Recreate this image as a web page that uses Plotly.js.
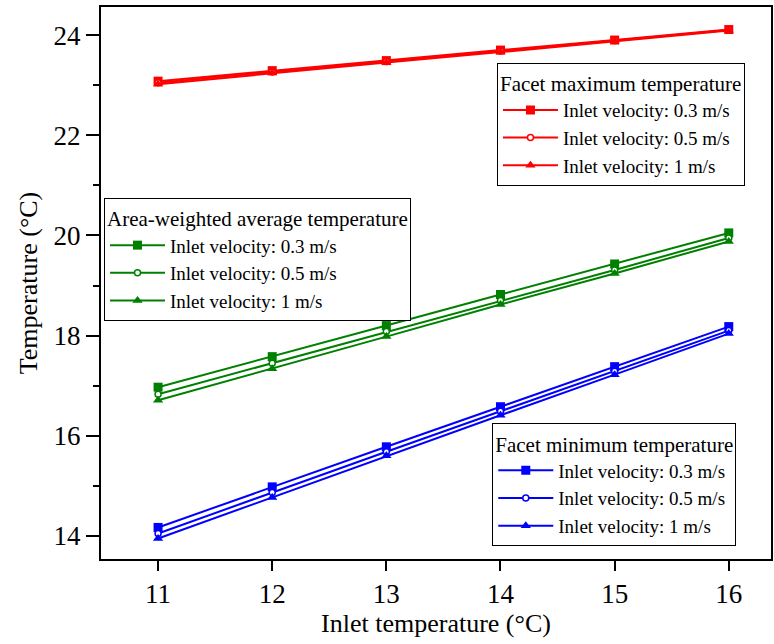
<!DOCTYPE html>
<html><head><meta charset="utf-8">
<script src="https://cdn.plot.ly/plotly-3.0.1.min.js"></script>
<style>body{margin:0;background:#fff}#chart{width:774px;height:644px}</style>
</head><body><div id="chart"></div>
<script>
const inletTemp = [11, 12, 13, 14, 15, 16];
const maxV03 = [23.08, 23.29, 23.49, 23.70, 23.90, 24.11];
const maxV05 = [23.05, 23.26, 23.47, 23.68, 23.89, 24.10];
const maxV1  = [23.02, 23.24, 23.45, 23.66, 23.88, 24.09];
const avgV03 = [16.97, 17.58, 18.20, 18.82, 19.43, 20.05];
const avgV05 = [16.83, 17.45, 18.08, 18.70, 19.31, 19.95];
const avgV1  = [16.71, 17.34, 17.98, 18.62, 19.24, 19.88];
const minV03 = [14.17, 14.98, 15.78, 16.58, 17.38, 18.18];
const minV05 = [14.05, 14.87, 15.68, 16.49, 17.29, 18.10];
const minV1  = [13.95, 14.77, 15.60, 16.41, 17.22, 18.04];
const seriesNames = ["Inlet velocity: 0.3 m/s", "Inlet velocity: 0.5 m/s", "Inlet velocity: 1 m/s"];
const groupTitles = ["Facet maximum temperature", "Area-weighted average temperature", "Facet minimum temperature"];
const yTicks = [14, 16, 18, 20, 22, 24];
const yMinorTicks = [15, 17, 19, 21, 23];

const groups = [
  {data: [maxV03, maxV05, maxV1], color: "#ff0000", legend: "legend"},
  {data: [avgV03, avgV05, avgV1], color: "#008000", legend: "legend2"},
  {data: [minV03, minV05, minV1], color: "#0000ff", legend: "legend3"}
];
const symbols = ["square", "circle", "triangle-up"];
const traces = [];
groups.forEach(g => {
  g.data.forEach((ys, i) => {
    traces.push({
      x: inletTemp, y: ys, type: "scatter", mode: "lines+markers",
      name: seriesNames[i], legend: g.legend,
      line: {color: g.color, width: 2},
      marker: {symbol: symbols[i], size: i === 1 ? 6 : 9, color: i === 1 ? "#ffffff" : g.color,
               line: {color: g.color, width: i === 1 ? 1.5 : 0}}
    });
  });
});

const font = {family: "Liberation Serif, Times New Roman, serif", color: "#000"};
const f = (s) => Object.assign({}, font, {size: s});
const legBase = {
  bgcolor: "#ffffff", bordercolor: "#000", borderwidth: 1,
  font: f(19), tracegroupgap: 0, itemwidth: 55, xanchor: "left", yanchor: "top"
};
const layout = {
  width: 774, height: 644,
  margin: {l: 101, r: 3, t: 7, b: 85},
  paper_bgcolor: "#fff", plot_bgcolor: "#fff",
  font: font,
  showlegend: true,
  xaxis: {
    range: [10.5, 16.37], tickvals: inletTemp, ticks: "outside", ticklen: 10, tickwidth: 2,
    tickcolor: "#000", showline: true, linewidth: 2, linecolor: "#000", mirror: true,
    showgrid: false, zeroline: false, tickfont: f(27),
    title: {text: "Inlet temperature (°C)", font: f(26), standoff: 0}
  },
  yaxis: {
    range: [13.54, 24.56], tickvals: yTicks, ticks: "outside", ticklen: 13, tickwidth: 2,
    tickcolor: "#000", showline: true, linewidth: 2, linecolor: "#000", mirror: true,
    minor: {tickvals: yMinorTicks, ticks: "outside", ticklen: 6, tickwidth: 2, tickcolor: "#000"},
    showgrid: false, zeroline: false, tickfont: f(27),
    title: {text: "Temperature (°C)", font: f(26), standoff: 8}
  },
  legend: Object.assign({}, legBase, {x: 0.591, y: 0.899, title: {text: groupTitles[0], font: f(21)}}),
  legend2: Object.assign({}, legBase, {x: 0.0045, y: 0.654, title: {text: groupTitles[1], font: f(21)}}),
  legend3: Object.assign({}, legBase, {x: 0.584, y: 0.246, title: {text: groupTitles[2], font: f(21)}})
};
Plotly.newPlot("chart", traces, layout, {displayModeBar: false});
</script></body></html>
